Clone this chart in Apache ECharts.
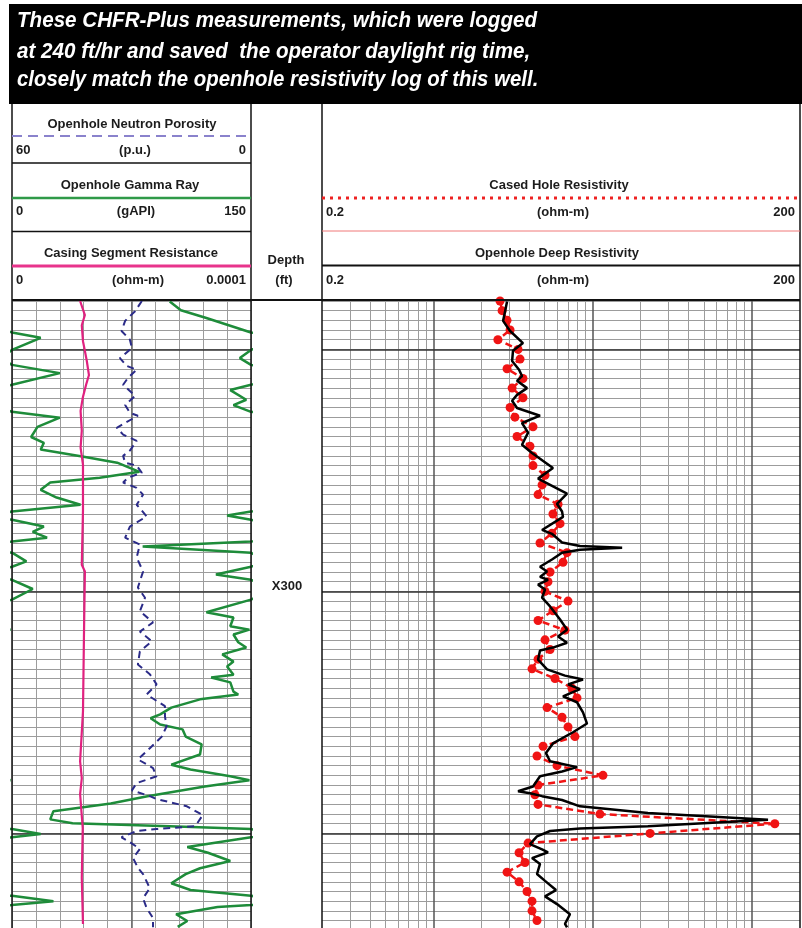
<!DOCTYPE html>
<html>
<head>
<meta charset="utf-8">
<script src="https://cdn.jsdelivr.net/npm/echarts@6/dist/echarts.min.js"></script>
<style>
  html, body { margin: 0; padding: 0; background: #fff; }
  #chart { width: 802px; height: 928px; }
</style>
</head>
<body>
<div id="chart"></div>
<script>
// ---- depth scale (ft) ----
const depthMin = 240;
const depthMax = 369.54;
const heavyDepths = [250, 300, 350];
const depthLabelValues = [300];
const depthLabelTexts = ['X300'];

// ---- resistivity track grid (ohm-m, log) ----
const resMinorLines = [0.3, 0.4, 0.5, 0.6, 0.7, 0.8, 0.9, 2, 3, 4, 5, 6, 7, 8, 9, 20, 30, 40, 50, 60, 70, 80, 90];
const resMajorLines = [1, 10, 100];
const gammaMidLine = 75;

// ---- Openhole Gamma Ray (gAPI), values > 150 wrap back onto the track ----
const gammaDepth = [240.1, 241.9, 243.5, 246.5, 247.6, 250.1, 251.8, 253.2, 254.9, 257.3, 258.4, 260.4, 261.5, 262.9,
  264.1, 266.0, 268.1, 269.3, 270.7, 272.2, 273.4, 275.3, 276.5, 277.5, 279.0, 280.6, 282.1, 283.5, 284.3, 285.2,
  286.6, 287.7, 288.9, 289.7, 290.7, 292.0, 293.8, 294.9, 296.5, 297.6, 299.5, 301.7, 304.3, 305.4, 307.2, 307.9,
  308.9, 310.5, 311.6, 313.0, 314.5, 315.5, 317.2, 317.8, 318.8, 320.7, 321.3, 322.3, 324.0, 325.4, 326.2, 327.5,
  328.5, 330.0, 331.6, 333.7, 335.8, 336.8, 338.2, 339.0, 340.3, 342.3, 343.8, 345.4, 347.1, 347.9, 348.5, 349.1,
  350.1, 350.8, 352.8, 354.0, 355.7, 357.2, 358.4, 360.3, 361.7, 362.9, 364.0, 364.8, 365.2, 366.7, 368.1, 369.3];
const gammaApi = [99, 106, 122, 150, 168, 150, 143, 150, 180, 150, 137, 147, 139, 150,
  180, 166, 162, 170, 168, 195, 216, 230, 205, 174, 168, 178, 193, 150, 135, 150,
  170, 163, 172, 150, 82, 150, 159, 150, 128, 150, 163, 150, 122, 139, 137, 149,
  139, 142, 147, 132, 139, 135, 139, 125, 137, 139, 142, 118, 100, 93, 87, 93,
  107, 109, 119, 118, 100, 112, 137, 149, 121, 85, 62, 26, 24, 38, 99, 150,
  168, 150, 110, 123, 137, 118, 109, 100, 112, 150, 176, 150, 129, 103, 110, 104];

// ---- Openhole Neutron Porosity (p.u.) ----
const neutronDepth = [240.0, 242.1, 244.1, 246.2, 248.0, 249.7, 251.8, 253.4, 254.2, 255.9, 257.3, 258.6, 259.6, 261.5,
  263.1, 263.7, 265.2, 266.2, 267.6, 268.9, 270.9, 272.0, 273.4, 274.0, 275.5, 276.5, 277.5, 278.6, 280.0, 282.1,
  283.3, 284.5, 286.6, 288.9, 290.3, 293.0, 295.9, 299.2, 301.3, 304.1, 306.4, 308.3, 310.3, 312.4, 315.1, 317.1,
  319.2, 321.3, 323.7, 325.8, 327.9, 330.0, 332.4, 334.7, 336.5, 338.2, 339.6, 341.1, 342.3, 342.9, 344.4, 346.2,
  348.5, 349.1, 349.5, 350.8, 351.8, 353.2, 355.1, 357.1, 358.4, 361.3, 363.4, 365.4, 367.5, 369.4];
const neutronPu = [27.4, 29.1, 31.6, 32.5, 30.4, 29.9, 32.9, 31.2, 28.7, 30.9, 32.1, 30.4, 29.1, 31.6,
  30.4, 28.4, 31.6, 33.7, 32.1, 28.7, 30.4, 32.1, 31.6, 28.7, 27.4, 30.9, 32.1, 28.7, 27.1, 28.7,
  27.4, 26.2, 30.4, 31.6, 27.9, 28.7, 27.1, 28.4, 26.6, 27.9, 24.6, 27.9, 24.9, 27.9, 28.4, 25.4,
  23.7, 26.2, 21.6, 21.6, 21.2, 22.4, 25.4, 28.4, 24.6, 23.7, 28.7, 29.9, 25.4, 23.7, 16.1, 12.1,
  14.0, 23.7, 28.7, 32.5, 30.4, 27.9, 29.6, 28.4, 27.1, 25.4, 27.1, 26.2, 24.6, 24.6];

// ---- Casing Segment Resistance (ohm-m) ----
const casingDepth = [240.0, 242.9, 245.0, 248.3, 250.3, 252.4, 255.3, 257.3, 260.0, 262.7, 266.8, 270.3,
  273.8, 283.3, 294.5, 295.9, 309.5, 324.8, 335.1, 338.6, 341.9, 348.9, 359.2, 368.7];
const casingRes = [2.85e-5, 3.05e-5, 2.92e-5, 2.97e-5, 3.05e-5, 3.13e-5, 3.22e-5, 3.10e-5, 2.96e-5, 2.87e-5, 2.92e-5, 2.87e-5,
  2.97e-5, 2.97e-5, 2.92e-5, 3.05e-5, 3.01e-5, 2.97e-5, 2.85e-5, 2.92e-5, 2.85e-5, 2.96e-5, 2.92e-5, 2.97e-5];

// ---- Openhole Deep Resistivity (ohm-m) ----
const deepDepth = [240.1, 242.1, 244.1, 246.2, 248.7, 250.3, 252.4, 254.2, 255.5, 256.5, 258.0, 259.4, 260.6, 262.1,
  263.7, 265.2, 267.2, 269.7, 271.4, 274.5, 276.7, 279.8, 281.9, 283.5, 284.6, 287.3, 288.1, 289.9, 290.6, 291.0,
  291.4, 292.0, 293.4, 294.9, 295.9, 297.0, 297.6, 298.6, 299.6, 301.3, 303.1, 305.8, 307.9, 309.3, 310.6, 311.6,
  312.2, 314.1, 316.1, 317.4, 318.2, 319.2, 320.2, 321.7, 322.9, 325.0, 327.3, 329.1, 331.4, 333.4, 335.1, 336.3,
  337.2, 338.2, 340.3, 341.3, 341.7, 342.3, 343.1, 344.4, 345.8, 347.2, 348.5, 349.0, 349.5, 350.6, 352.2, 353.3,
  353.9, 355.1, 356.3, 358.4, 359.8, 361.7, 363.0, 364.6, 366.7, 368.7, 369.4];
const deepRes = [2.90, 2.82, 2.74, 3.03, 3.65, 3.16, 3.12, 3.45, 3.60, 3.35, 3.87, 3.35, 3.12, 3.35,
  4.67, 3.60, 3.93, 3.60, 4.16, 5.63, 4.54, 6.90, 5.97, 6.42, 6.51, 4.81, 5.55, 6.42, 8.32, 15.3,
  8.32, 6.42, 5.55, 4.67, 5.17, 4.67, 5.24, 4.54, 5.02, 4.81, 5.40, 6.24, 6.90, 6.06, 6.90, 5.63,
  4.67, 4.54, 5.17, 6.70, 8.69, 7.00, 8.32, 6.51, 7.97, 8.69, 9.21, 7.52, 5.63, 5.09, 5.40, 7.97,
  6.42, 4.67, 4.22, 3.40, 4.04, 4.81, 6.42, 8.32, 22.2, 126, 22.2, 8.32, 5.40, 4.47, 4.04, 4.81,
  5.24, 4.16, 4.67, 4.47, 5.02, 5.88, 5.02, 5.97, 7.20, 6.70, 6.90];

// ---- Cased Hole Resistivity (ohm-m), CHFR-Plus stations ----
const casedDepth = [240, 242, 244, 246, 248, 250, 252, 254, 256, 258, 260, 262, 264, 266, 268, 270, 272, 274, 276, 278,
  280, 282, 284, 286, 288, 290, 292, 294, 296, 298, 300, 302, 304, 306, 308, 310, 312, 314, 316, 318,
  320, 322, 324, 326, 328, 330, 332, 334, 336, 338, 340, 342, 344, 346, 348, 350, 352, 354, 356, 358,
  360, 362, 364, 366, 368];
const casedRes = [2.62, 2.70, 2.90, 3.03, 2.54, 3.40, 3.50, 2.90, 3.65, 3.12, 3.65, 3.03, 3.25, 4.22, 3.35, 4.04, 4.22, 4.22, 5.02, 4.81,
  4.54, 6.06, 5.63, 6.24, 5.55, 4.67, 6.90, 6.51, 5.40, 5.24, 5.02, 7.00, 5.63, 4.54, 6.70, 5.02, 5.40, 4.54, 4.16, 5.80,
  7.41, 7.97, 5.17, 6.42, 7.00, 7.74, 4.88, 4.47, 5.97, 11.6, 4.54, 4.34, 4.54, 11.1, 139, 22.9, 3.93, 3.45, 3.76, 2.90,
  3.45, 3.87, 4.16, 4.16, 4.47];

const bannerLines = [
  'These CHFR-Plus measurements, which were logged',
  'at 240 ft/hr and saved  the operator daylight rig time,',
  'closely match the openhole resistivity log of this well.'
];

const FONT = '"Liberation Sans", Arial, sans-serif';
const gammaWrap = 150;

const chart = echarts.init(document.getElementById('chart'));

const pairs = (xs, ds) => xs.map((v, i) => [v, ds[i]]);

// header / frame drawing helpers
const gfx = [];
const line = (x1, y1, x2, y2, stroke, lineWidth, lineDash) => gfx.push({
  type: 'line', z: 50, silent: true,
  shape: { x1, y1, x2, y2 },
  style: { stroke, lineWidth, lineDash: lineDash || null }
});
const text = (t, x, y, align, size) => gfx.push({
  type: 'text', z: 60, silent: true, x, y,
  style: { text: t, fill: '#1c1c1c', font: 'bold ' + (size || 13) + 'px ' + FONT, align, verticalAlign: 'middle' }
});

// banner
gfx.push({ type: 'rect', z: 40, silent: true, shape: { x: 9, y: 4, width: 793, height: 100 }, style: { fill: '#000' } });
[20.5, 51.5, 80].forEach((y, i) => gfx.push({
  type: 'text', z: 60, silent: true, x: 17, y, scaleX: i === 2 ? 0.927 : 0.937,
  style: { text: bannerLines[i], fill: '#fff', font: 'italic bold 22px ' + FONT, align: 'left', verticalAlign: 'middle' }
}));

// frame
[12, 251, 322, 800].forEach(x => line(x, 104, x, 928, '#111', 1.5));
line(12, 300, 800, 300, '#111', 2);
line(12, 163, 251, 163, '#111', 1.5);
line(12, 231.5, 251, 231.5, '#111', 1.5);
line(322, 265.5, 800, 265.5, '#111', 2);

// legend strokes
line(12, 136, 251, 136, '#8a82cc', 2, [10, 6]);
line(12, 198, 251, 198, '#2f9a48', 2.5);
line(12, 266, 251, 266, '#e8348c', 3);
line(322, 198, 800, 198, '#ee2222', 3, [3, 5]);
line(322, 231, 800, 231, '#f07878', 1);

// header text
text('Openhole Neutron Porosity', 132, 124, 'center');
text('60', 16, 150, 'left');
text('(p.u.)', 135, 150, 'center');
text('0', 246, 150, 'right');
text('Openhole Gamma Ray', 130, 185, 'center');
text('0', 16, 211, 'left');
text('(gAPI)', 136, 211, 'center');
text('150', 246, 211, 'right');
text('Casing Segment Resistance', 131, 253, 'center');
text('0', 16, 280, 'left');
text('(ohm-m)', 138, 280, 'center');
text('0.0001', 246, 280, 'right');
text('Depth', 286, 260, 'center');
text('(ft)', 284, 280, 'center');
text('Cased Hole Resistivity', 559, 185, 'center');
text('0.2', 326, 212, 'left');
text('(ohm-m)', 563, 212, 'center');
text('200', 795, 212, 'right');
text('Openhole Deep Resistivity', 557, 253, 'center');
text('0.2', 326, 280, 'left');
text('(ohm-m)', 563, 280, 'center');
text('200', 795, 280, 'right');

const depthAxis = (gridIndex) => ({
  gridIndex, type: 'value', inverse: true, min: depthMin, max: depthMax, interval: 2,
  axisLine: { show: false }, axisTick: { show: false }, axisLabel: { show: false },
  splitLine: { show: true, lineStyle: { color: '#9c9c9c', width: 1 } }
});

const heavyMarks = heavyDepths.map(d => ({ yAxis: d, lineStyle: { color: '#333', width: 1.5, type: 'solid' } }));

const option = {
  animation: false,
  backgroundColor: '#fff',
  graphic: gfx,
  grid: [
    { left: 12, top: 301, width: 239, height: 628 },
    { left: 322, top: 301, width: 478, height: 628 },
    { left: 251, top: 301, width: 71, height: 628 }
  ],
  xAxis: [
    { gridIndex: 0, type: 'value', min: 0, max: 150, interval: 15,
      axisLine: { show: false }, axisTick: { show: false }, axisLabel: { show: false },
      splitLine: { show: true, lineStyle: { color: '#9c9c9c', width: 1 } } },
    { gridIndex: 0, type: 'value', min: 0, max: 60, inverse: true, show: false },
    { gridIndex: 0, type: 'value', min: 0, max: 0.0001, show: false },
    { gridIndex: 1, type: 'log', logBase: 10, min: 0.2, max: 200, show: false },
    { gridIndex: 2, type: 'value', min: 0, max: 1, show: false }
  ],
  yAxis: [
    depthAxis(0),
    depthAxis(1),
    { gridIndex: 2, type: 'value', inverse: true, min: depthMin, max: depthMax, interval: 10,
      axisLine: { show: false }, axisTick: { show: false }, splitLine: { show: false },
      axisLabel: {
        inside: true, margin: 36, align: 'center', verticalAlign: 'bottom', lineHeight: 9,
        color: '#1c1c1c', fontSize: 13, fontWeight: 'bold', fontFamily: FONT,
        formatter: v => {
          const k = depthLabelValues.indexOf(v);
          return k >= 0 ? depthLabelTexts[k] : '';
        }
      } }
  ],
  series: [
    // track overlays: heavy depth lines, track centre line, log grid
    { type: 'line', xAxisIndex: 0, yAxisIndex: 0, data: [], z: 1, silent: true,
      markLine: { silent: true, symbol: ['none', 'none'], label: { show: false }, animation: false,
        data: heavyMarks.concat([{ xAxis: gammaMidLine, lineStyle: { color: '#666', width: 1.5, type: 'solid' } }]) } },
    { type: 'line', xAxisIndex: 3, yAxisIndex: 1, data: [], z: 1, silent: true,
      markLine: { silent: true, symbol: ['none', 'none'], label: { show: false }, animation: false,
        data: resMinorLines.map(v => ({ xAxis: v, lineStyle: { color: '#9c9c9c', width: 1, type: 'solid' } }))
          .concat(resMajorLines.map(v => ({ xAxis: v, lineStyle: { color: '#555', width: 1.5, type: 'solid' } })))
          .concat(heavyMarks) } },

    { name: 'Openhole Gamma Ray', type: 'line', xAxisIndex: 0, yAxisIndex: 0, z: 5, clip: true,
      symbol: 'none', data: pairs(gammaApi, gammaDepth),
      lineStyle: { color: '#1e8c3a', width: 2.5 } },
    { name: 'Openhole Gamma Ray (wrap)', type: 'line', xAxisIndex: 0, yAxisIndex: 0, z: 5, clip: true,
      symbol: 'none', data: pairs(gammaApi.map(v => v - gammaWrap), gammaDepth),
      lineStyle: { color: '#1e8c3a', width: 2.5 } },
    { name: 'Openhole Neutron Porosity', type: 'line', xAxisIndex: 1, yAxisIndex: 0, z: 6, clip: true,
      symbol: 'none', data: pairs(neutronPu, neutronDepth),
      lineStyle: { color: '#2b2b88', width: 2, type: [7, 5] } },
    { name: 'Casing Segment Resistance', type: 'line', xAxisIndex: 2, yAxisIndex: 0, z: 6, clip: true,
      symbol: 'none', data: pairs(casingRes, casingDepth),
      lineStyle: { color: '#e0217f', width: 2.2 } },
    { name: 'Cased Hole Resistivity', type: 'line', xAxisIndex: 3, yAxisIndex: 1, z: 5, clip: true,
      symbol: 'circle', symbolSize: 9, showSymbol: true, data: pairs(casedRes, casedDepth),
      itemStyle: { color: '#f01414' },
      lineStyle: { color: '#f01414', width: 2.5, type: [7, 4] } },
    { name: 'Openhole Deep Resistivity', type: 'line', xAxisIndex: 3, yAxisIndex: 1, z: 6, clip: true,
      symbol: 'none', data: pairs(deepRes, deepDepth),
      lineStyle: { color: '#000', width: 2.5 } }
  ]
};

chart.setOption(option);
</script>
</body>
</html>
